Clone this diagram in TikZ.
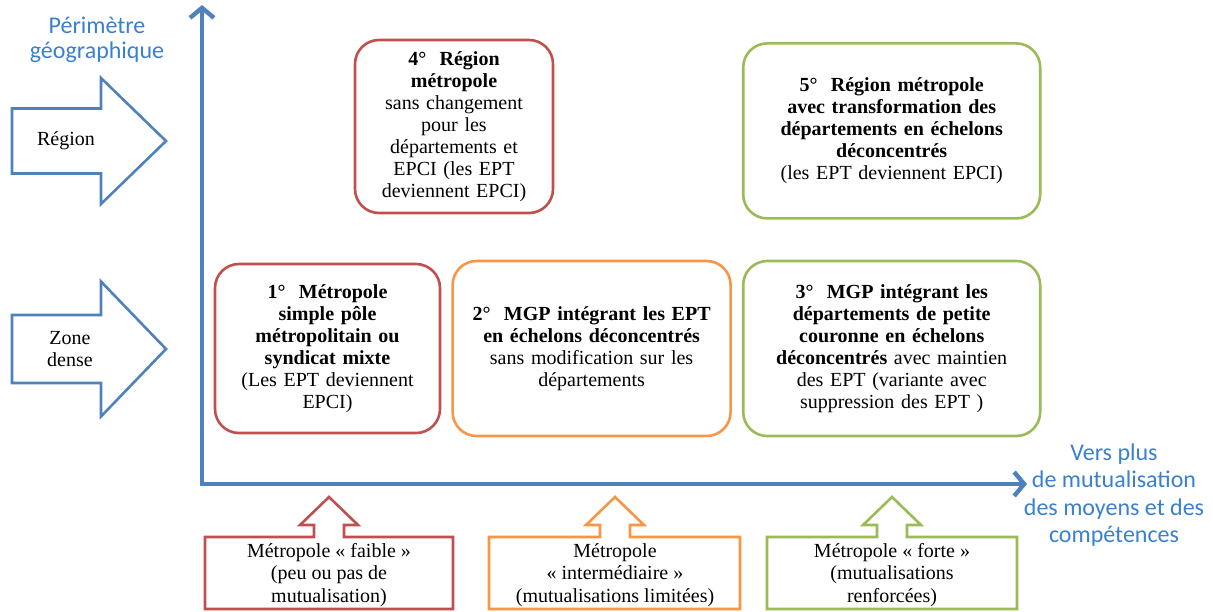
\documentclass[tikz,border=0pt]{standalone}
\usepackage{fontspec}
\setmainfont{Liberation Serif}
\newfontfamily\calibri{Carlito}
\usetikzlibrary{calc,arrows.meta,positioning}
\definecolor{axisblue}{RGB}{79,129,189}
\definecolor{labelblue}{RGB}{58,128,208}
\definecolor{weakred}{RGB}{192,80,77}
\definecolor{midorange}{RGB}{247,150,70}
\definecolor{strongreen}{RGB}{155,187,89}

\begin{document}
\begin{tikzpicture}[x=0.5pt,y=-0.5pt,node distance=20pt and 5pt]

\tikzset{scenario/.style={draw,line width=1.3pt,rounded corners=12pt,align=center,inner sep=0pt,font=\fontsize{10}{11}\selectfont},
plaintext/.style={align=center,inner sep=0pt,font=\fontsize{10}{11.2}\selectfont},
bluelabel/.style={align=center,inner sep=0pt,text=labelblue,font=\calibri\fontsize{12}{12.5}\selectfont},
sidearrow/.style={draw=axisblue,line width=1.3pt,fill=white},
callout/.style={line width=1.3pt,fill=white},
axis/.style={draw=axisblue,line width=2.2pt,arrows={Straight Barb[length=5pt,width=12pt]-Straight Barb[length=5pt,width=12pt]}}}

\useasboundingbox (0,0) rectangle (1213,611);

% Axis
\coordinate (origin) at (202,484);
\coordinate (ytip) at (202,5);
\coordinate (xtip) at (1027,484);
\draw[axis] (ytip) -- (origin) -- (xtip);
\node[bluelabel] (ylabel) at (97,40) {Périmètre\\géographique};
\node[bluelabel,font=\calibri\fontsize{12}{13.8}\selectfont] (xlabel) at (1114,495) {Vers plus\\de mutualisation\\des moyens et des\\compétences};

% Perimeter arrows
\foreach \y/\b/\h in {141/32.5/63, 349/34/67.5}
  \draw[sidearrow] (12,\y-\b) -- (101,\y-\b) -- (101,\y-\h) -- (166,\y) -- (101,\y+\h) -- (101,\y+\b) -- (12,\y+\b) -- cycle;
\node[plaintext] (region) at (66,141) {Région};
\node[plaintext] (dense) at (70,349) {Zone\\dense};

% Scenario boxes
\node[scenario,draw=weakred,minimum width=112.5pt,minimum height=84.5pt,text width=105pt] (metro) at (327.5,348.5)
  {\textbf{1°~~Métropole\\simple pôle\\métropolitain ou\\syndicat mixte}\\(Les EPT deviennent\\EPCI)};
\node[scenario,draw=midorange,minimum width=139pt,minimum height=87.5pt,text width=132pt,right=of metro] (mgpept)
  {\textbf{2°~~MGP intégrant les EPT\\en échelons déconcentrés}\\sans modification sur les\\départements};
\node[scenario,draw=strongreen,minimum width=148.5pt,minimum height=87.5pt,text width=142pt,right=of mgpept] (mgpdep)
  {\textbf{3°~~MGP intégrant les\\départements de petite\\couronne en échelons\\déconcentrés} avec maintien\\des EPT (variante avec\\suppression des EPT )};
\node[scenario,draw=weakred,minimum width=99pt,minimum height=86.5pt,text width=94pt] (regmetro) at (454,126.5)
  {\textbf{4°~~Région\\métropole}\\sans changement\\pour les\\départements et\\EPCI (les EPT\\deviennent EPCI)};
\node[scenario,draw=strongreen,minimum width=148.5pt,minimum height=87.5pt,text width=142pt,above=of mgpdep] (regtrans)
  {\textbf{5°~~Région métropole\\avec transformation des\\départements en échelons\\déconcentrés}\\(les EPT deviennent EPCI)};

% Metropole types
\foreach \l/\c/\r/\col in {205/329/453/weakred, 489/615/740/midorange, 767/892/1017/strongreen}
  \draw[callout,draw=\col] (\l,609) -- (\l,537) -- (\c-15,537) -- (\c-15,525) -- (\c-29,525) -- (\c,497) -- (\c+29,525) -- (\c+15,525) -- (\c+15,537) -- (\r,537) -- (\r,609) -- cycle;
\node[plaintext] (weak) at (329,575) {Métropole « faible »\\(peu ou pas de\\mutualisation)};
\node[plaintext] (medium) at (615,575) {Métropole\\« intermédiaire »\\(mutualisations limitées)};
\node[plaintext] (strong) at (892,575) {Métropole « forte »\\(mutualisations\\renforcées)};

\end{tikzpicture}
\end{document}
